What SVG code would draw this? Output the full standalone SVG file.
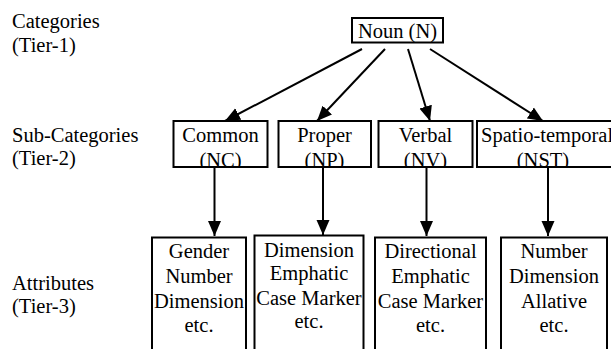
<svg xmlns="http://www.w3.org/2000/svg" width="611" height="349" viewBox="0 0 611 349" font-family="'Liberation Serif', 'DejaVu Serif', serif">
<style>
text{font-family:'Liberation Serif','DejaVu Serif',serif;font-size:20.5px;fill:#000}
.c{text-anchor:middle}
.box{fill:#fff;stroke:#000;stroke-width:2}
.edge{stroke:#000;stroke-width:2;fill:none;marker-end:url(#arr)}
</style>
<defs>
<marker id="arr" markerUnits="userSpaceOnUse" markerWidth="16" markerHeight="14" refX="15" refY="6.5" orient="auto" viewBox="0 0 16 13">
<path d="M0,0 L15,6.5 L0,13 z" fill="#000"/>
</marker>
<clipPath id="t2clip"><rect x="0" y="0" width="611" height="167"/></clipPath>
</defs>
<g id="tier-labels">
<text x="12" y="28">Categories</text>
<text x="12" y="52">(Tier-1)</text>
<text x="12" y="142">Sub-Categories</text>
<text x="12" y="165">(Tier-2)</text>
<text x="12" y="290">Attributes</text>
<text x="12" y="313">(Tier-3)</text>
</g>
<g id="connectors">
<line class="edge" x1="362" y1="49" x2="225" y2="121"/>
<line class="edge" x1="385" y1="49" x2="317" y2="121"/>
<line class="edge" x1="408" y1="49" x2="430" y2="121"/>
<line class="edge" x1="430" y1="49" x2="543" y2="121"/>
<line class="edge" x1="214.5" y1="167" x2="214.5" y2="236"/>
<line class="edge" x1="323" y1="167" x2="323" y2="235"/>
<line class="edge" x1="426.5" y1="167" x2="426.5" y2="236"/>
<line class="edge" x1="548" y1="167" x2="548" y2="236"/>
</g>
<g id="noun">
<rect class="box" x="352" y="18" width="91" height="24.5"/>
<text class="c" x="397.5" y="38">Noun (N)</text>
</g>
<g id="common">
<rect class="box" x="173.5" y="121" width="94" height="46"/>
<g clip-path="url(#t2clip)"><text class="c" x="220.5" y="142">Common</text><text class="c" x="220.5" y="167">(NC)</text></g>
</g>
<g id="proper">
<rect class="box" x="278.5" y="121" width="92.5" height="46"/>
<g clip-path="url(#t2clip)"><text class="c" x="324.5" y="142">Proper</text><text class="c" x="324.5" y="167">(NP)</text></g>
</g>
<g id="verbal">
<rect class="box" x="378.5" y="121" width="94" height="46"/>
<g clip-path="url(#t2clip)"><text class="c" x="425.5" y="142">Verbal</text><text class="c" x="425.5" y="167">(NV)</text></g>
</g>
<g id="spatio">
<rect class="box" x="477" y="121" width="150" height="46"/>
<g clip-path="url(#t2clip)"><text x="481" y="142">Spatio-temporal</text><text class="c" x="543" y="167">(NST)</text></g>
</g>
<g id="attr-common">
<rect class="box" x="152" y="237.5" width="94" height="130"/>
<text class="c" x="199" y="258">Gender</text>
<text class="c" x="199" y="283">Number</text>
<text class="c" x="199" y="308">Dimension</text>
<text class="c" x="199" y="332">etc.</text>
</g>
<g id="attr-proper">
<rect class="box" x="254.5" y="235.5" width="109" height="130"/>
<text class="c" x="309" y="256.5">Dimension</text>
<text class="c" x="309" y="280">Emphatic</text>
<text class="c" x="309" y="305">Case Marker</text>
<text class="c" x="309" y="328">etc.</text>
</g>
<g id="attr-verbal">
<rect class="box" x="375" y="237.5" width="111" height="130"/>
<text class="c" x="430.5" y="258">Directional</text>
<text class="c" x="430.5" y="283">Emphatic</text>
<text class="c" x="430.5" y="308">Case Marker</text>
<text class="c" x="430.5" y="332">etc.</text>
</g>
<g id="attr-spatio">
<rect class="box" x="501" y="237.5" width="106" height="130"/>
<text class="c" x="554" y="258">Number</text>
<text class="c" x="554" y="283">Dimension</text>
<text class="c" x="554" y="308">Allative</text>
<text class="c" x="554" y="332">etc.</text>
</g>
</svg>
